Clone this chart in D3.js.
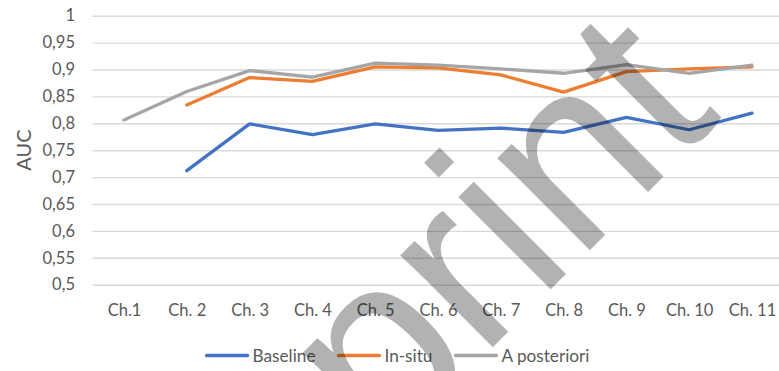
<!DOCTYPE html>
<html><head><meta charset="utf-8">
<script src="https://cdn.jsdelivr.net/npm/d3@7"></script>
<style>
body{margin:0;background:#fff;}
svg{display:block;font-family:Lato,"Open Sans",sans-serif;}
</style>
</head><body>
<svg id="chart" width="779" height="371"></svg>
<script>
// ---- data ----
const categories = ["Ch.1","Ch. 2","Ch. 3","Ch. 4","Ch. 5","Ch. 6","Ch. 7","Ch. 8","Ch. 9","Ch. 10","Ch. 11"];
const baseline    = [null, 0.712, 0.799, 0.779, 0.799, 0.787, 0.791, 0.783, 0.811, 0.788, 0.819];
const inSitu      = [null, 0.834, 0.885, 0.878, 0.905, 0.903, 0.890, 0.858, 0.896, 0.901, 0.905];
const aPosteriori = [0.806, 0.859, 0.898, 0.886, 0.912, 0.908, 0.901, 0.893, 0.909, 0.893, 0.908];
const yTicks = [0.5,0.55,0.6,0.65,0.7,0.75,0.8,0.85,0.9,0.95,1];
const seriesNames = ["Baseline","In-situ","A posteriori"];
const yTitle = "AUC";
const watermark = "preprint";

// ---- layout / style ----
const colors = ["#4472C4","#ED7D31","#A5A5A5"];
const textColor = "#595959";
const plot = {left:92.6, right:783.4, top:15.7, bottom:284.7};
const svg = d3.select("#chart");

const x = d3.scalePoint().domain(categories).range([plot.left, plot.right]).padding(0.5);
const y = d3.scaleLinear().domain([0.5,1]).range([plot.bottom, plot.top]);

// y axis + gridlines
const yAxis = svg.append("g").attr("transform",`translate(${plot.left},0)`)
  .call(d3.axisLeft(y).tickValues(yTicks).tickSize(-(plot.right-plot.left)).tickPadding(17.6)
    .tickFormat(d => d3.format(".2~f")(d).replace(".", ",")));
yAxis.select(".domain").remove();
yAxis.selectAll(".tick line").attr("stroke","#d9d9d9").attr("stroke-width",1.4);
yAxis.selectAll(".tick text").attr("fill",textColor).attr("font-size",16.5).attr("font-family","Lato");

// x axis labels
const xAxis = svg.append("g").attr("transform",`translate(0,${plot.bottom})`)
  .call(d3.axisBottom(x).tickSize(0).tickPadding(19.5));
xAxis.select(".domain").remove();
xAxis.selectAll(".tick text").attr("fill",textColor).attr("font-size",16.5).attr("font-family","Lato");

// y title
svg.append("text").attr("transform","translate(31,150) rotate(-90)")
  .attr("text-anchor","middle").attr("fill",textColor).attr("font-size",20).text(yTitle);

// lines
const allSeries = [baseline, inSitu, aPosteriori];
const line = d3.line().defined(d => d.v != null).x(d => x(d.c)).y(d => y(d.v));
allSeries.forEach((vals,i) => {
  svg.append("path")
    .datum(vals.map((v,j) => ({c:categories[j], v})))
    .attr("fill","none").attr("stroke",colors[i]).attr("stroke-width",3.3)
    .attr("stroke-linejoin","round").attr("stroke-linecap","round")
    .attr("d", line);
});

// legend
const legend = svg.append("g");
let cx = 0;
seriesNames.forEach((name,i) => {
  const g = legend.append("g").attr("transform",`translate(${cx},0)`);
  g.append("line").attr("x1",0).attr("x2",41).attr("y1",0).attr("y2",0)
    .attr("stroke",colors[i]).attr("stroke-width",3.3).attr("stroke-linecap","round");
  const t = g.append("text").attr("x",46).attr("y",6.2).attr("fill",textColor)
    .attr("font-size",17.2).text(name);
  cx += 46 + t.node().getComputedTextLength() + 23;
});
const legendWidth = cx - 23;
legend.attr("transform",`translate(${398 - legendWidth/2},355.5)`);

// watermark
const wm = svg.append("g").attr("transform","translate(558.3,281.7) rotate(-45)");
const wt = wm.append("text").attr("font-size",247).attr("font-family","Liberation Sans")
  .attr("fill","#000").attr("fill-opacity",0.3).text(watermark);
const ext = wt.node().getExtentOfChar(5);
wt.attr("x", -(ext.x + ext.width/2));
</script>
</body></html>
